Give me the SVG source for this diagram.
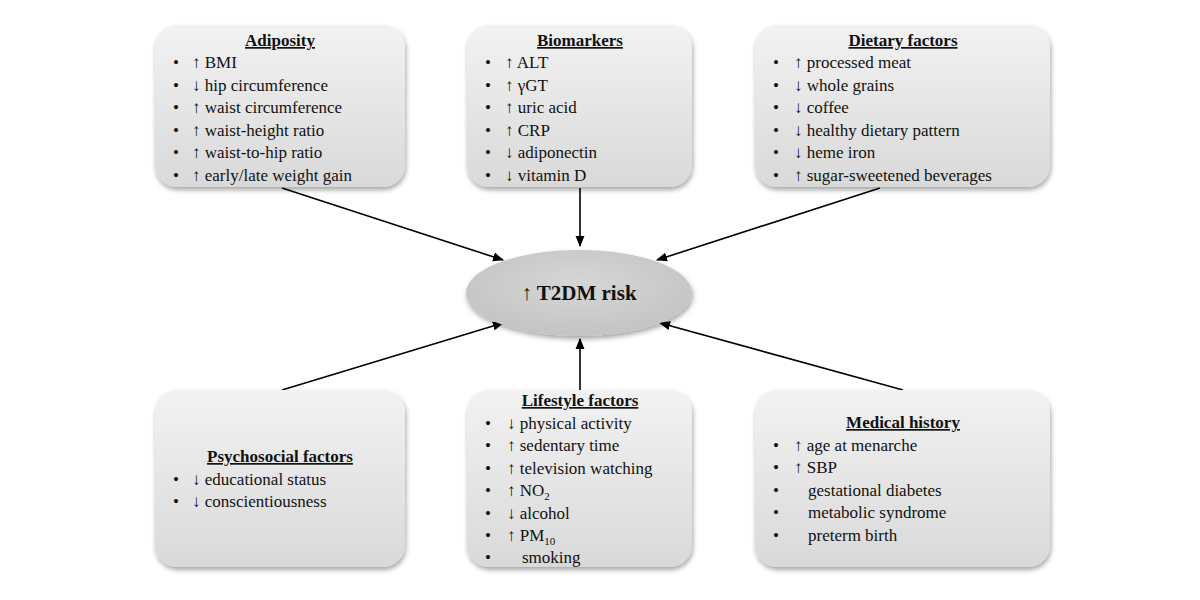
<svg xmlns="http://www.w3.org/2000/svg" width="1200" height="600" viewBox="0 0 1200 600">
<defs>
<linearGradient id="g" x1="0" y1="0" x2="0" y2="1"><stop offset="0" stop-color="#f2f2f2"/><stop offset="1" stop-color="#d9d9d9"/></linearGradient>
<radialGradient id="e" cx="0.5" cy="0.4" r="0.6"><stop offset="0" stop-color="#d6d6d6"/><stop offset="1" stop-color="#c4c4c4"/></radialGradient>
<filter id="s" x="-10%" y="-10%" width="120%" height="125%"><feDropShadow dx="1" dy="3" stdDeviation="2.5" flood-color="#000" flood-opacity="0.35"/></filter>
<marker id="a" viewBox="0 0 10 10" refX="9" refY="5" markerWidth="7" markerHeight="7" orient="auto"><path d="M0,1 L10,5 L0,9 z" fill="#000"/></marker>
<style>
.box{fill:url(#g);filter:url(#s)}
text{font-family:"Liberation Serif",serif;font-size:17px;fill:#111}
.t{font-weight:bold;text-decoration:underline;text-anchor:middle}
.c{stroke:#000;stroke-width:1.6;fill:none;marker-end:url(#a)}
</style>
</defs>
<rect width="1200" height="600" fill="#fff"/>
<g id="connectors">
<line class="c" x1="282" y1="188" x2="503" y2="260"/>
<line class="c" x1="580" y1="188" x2="580" y2="246"/>
<line class="c" x1="880" y1="188" x2="657" y2="260"/>
<line class="c" x1="282" y1="390" x2="503" y2="323"/>
<line class="c" x1="580" y1="390" x2="580" y2="339"/>
<line class="c" x1="903" y1="390" x2="660" y2="323"/>
</g>
<g id="center"><ellipse cx="579" cy="293" rx="113" ry="43" fill="url(#e)" filter="url(#s)"/>
<text x="579" y="300" style="font-size:21px;font-weight:bold;text-anchor:middle">↑ T2DM risk</text></g>
<g id="adiposity"><rect class="box" x="155" y="25" width="250" height="162" rx="22"/>
<text class="t" x="280" y="46">Adiposity</text>
<text x="173" y="68">•</text><text x="192" y="68">↑ BMI</text>
<text x="173" y="91">•</text><text x="192" y="91">↓ hip circumference</text>
<text x="173" y="113">•</text><text x="192" y="113">↑ waist circumference</text>
<text x="173" y="136">•</text><text x="192" y="136">↑ waist-height ratio</text>
<text x="173" y="158">•</text><text x="192" y="158">↑ waist-to-hip ratio</text>
<text x="173" y="181">•</text><text x="192" y="181">↑ early/late weight gain</text></g>
<g id="biomarkers"><rect class="box" x="467" y="25" width="225" height="162" rx="22"/>
<text class="t" x="580" y="46">Biomarkers</text>
<text x="485" y="68">•</text><text x="505" y="68">↑ ALT</text>
<text x="485" y="91">•</text><text x="505" y="91">↑ γGT</text>
<text x="485" y="113">•</text><text x="505" y="113">↑ uric acid</text>
<text x="485" y="136">•</text><text x="505" y="136">↑ CRP</text>
<text x="485" y="158">•</text><text x="505" y="158">↓ adiponectin</text>
<text x="485" y="181">•</text><text x="505" y="181">↓ vitamin D</text></g>
<g id="dietary"><rect class="box" x="755" y="25" width="295" height="162" rx="22"/>
<text class="t" x="903" y="46">Dietary factors</text>
<text x="773" y="68">•</text><text x="794" y="68">↑ processed meat</text>
<text x="773" y="91">•</text><text x="794" y="91">↓ whole grains</text>
<text x="773" y="113">•</text><text x="794" y="113">↓ coffee</text>
<text x="773" y="136">•</text><text x="794" y="136">↓ healthy dietary pattern</text>
<text x="773" y="158">•</text><text x="794" y="158">↓ heme iron</text>
<text x="773" y="181">•</text><text x="794" y="181">↑ sugar-sweetened beverages</text></g>
<g id="psychosocial"><rect class="box" x="155" y="390" width="250" height="177" rx="22"/>
<text class="t" x="280" y="462">Psychosocial factors</text>
<text x="173" y="485">•</text><text x="192" y="485">↓ educational status</text>
<text x="173" y="507">•</text><text x="192" y="507">↓ conscientiousness</text></g>
<g id="lifestyle"><rect class="box" x="467" y="390" width="225" height="177" rx="22"/>
<text class="t" x="580" y="406">Lifestyle factors</text>
<text x="485" y="429">•</text><text x="507" y="429">↓ physical activity</text>
<text x="485" y="451">•</text><text x="507" y="451">↑ sedentary time</text>
<text x="485" y="474">•</text><text x="507" y="474">↑ television watching</text>
<text x="485" y="496">•</text><text x="507" y="496">↑ NO<tspan font-size="11" dy="4">2</tspan></text>
<text x="485" y="519">•</text><text x="507" y="519">↓ alcohol</text>
<text x="485" y="541">•</text><text x="507" y="541">↑ PM<tspan font-size="11" dy="4">10</tspan></text>
<text x="485" y="563">•</text><text x="522" y="563">smoking</text></g>
<g id="medical"><rect class="box" x="755" y="390" width="295" height="177" rx="22"/>
<text class="t" x="903" y="428">Medical history</text>
<text x="773" y="451">•</text><text x="794" y="451">↑ age at menarche</text>
<text x="773" y="473">•</text><text x="794" y="473">↑ SBP</text>
<text x="773" y="496">•</text><text x="808" y="496">gestational diabetes</text>
<text x="773" y="518">•</text><text x="808" y="518">metabolic syndrome</text>
<text x="773" y="541">•</text><text x="808" y="541">preterm birth</text></g>
</svg>
